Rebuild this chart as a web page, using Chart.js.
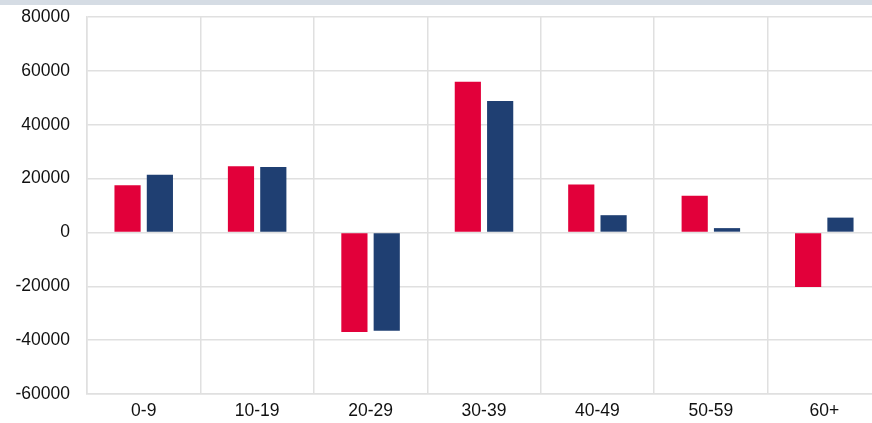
<!DOCTYPE html>
<html>
<head>
<meta charset="utf-8">
<script src="https://cdn.jsdelivr.net/npm/chart.js@4"></script>
<style>
  html, body { margin: 0; padding: 0; background: #fff; overflow: hidden; }
  #band { position: absolute; left: 0; top: 0; width: 872px; height: 5px; background: #d5dce4; }
  #wrap { position: absolute; left: 0; top: 0; width: 884px; height: 423px; }
</style>
</head>
<body>
<div id="wrap"><canvas id="chart"></canvas></div>
<div id="band"></div>
<script>
// age groups on the x axis
const categories = ['0-9', '10-19', '20-29', '30-39', '40-49', '50-59', '60+'];
// two series
const redValues = [17500, 24600, -37000, 56000, 17800, 13600, -20300];
const blueValues = [21400, 24300, -36500, 48800, 6400, 1600, 5500];
const yTicks = [-60000, -40000, -20000, 0, 20000, 40000, 60000, 80000];

const canvas = document.getElementById('chart');
canvas.width = 884;
canvas.height = 423;

const tickFont = { family: 'Liberation Sans', size: 17.5 };

new Chart(canvas.getContext('2d'), {
    type: 'bar',
    data: {
        labels: categories,
        datasets: [
            { data: redValues, backgroundColor: '#e2003a', barPercentage: 0.81, categoryPercentage: 0.57 },
            { data: blueValues, backgroundColor: '#1f3f72', barPercentage: 0.81, categoryPercentage: 0.57 }
        ]
    },
    options: {
        responsive: false,
        animation: false,
        layout: { padding: { top: 17, right: 3, left: 0, bottom: 0 } },
        plugins: { legend: { display: false }, tooltip: { enabled: false } },
        scales: {
            x: {
                grid: { color: '#e0e0e0', lineWidth: 1.5, offset: true, drawTicks: false },
                border: { color: '#e0e0e0', width: 1.5 },
                ticks: { color: '#111', font: tickFont, padding: 7 },
                afterFit: function(scale) { scale.height = 29; }
            },
            y: {
                min: -60000,
                max: 80000,
                afterBuildTicks: function(scale) { scale.ticks = yTicks.map(v => ({ value: v })); },
                grid: { color: '#e0e0e0', lineWidth: 1.5, drawTicks: false },
                border: { color: '#e0e0e0', width: 1.5 },
                ticks: {
                    color: '#111', font: tickFont, padding: 17,
                    callback: function(value) { return String(value); }
                },
                afterFit: function(scale) {
                    scale.width = 87;
                    scale.paddingTop = 0;
                    scale.paddingBottom = 0;
                }
            }
        }
    }
});
</script>
</body>
</html>
